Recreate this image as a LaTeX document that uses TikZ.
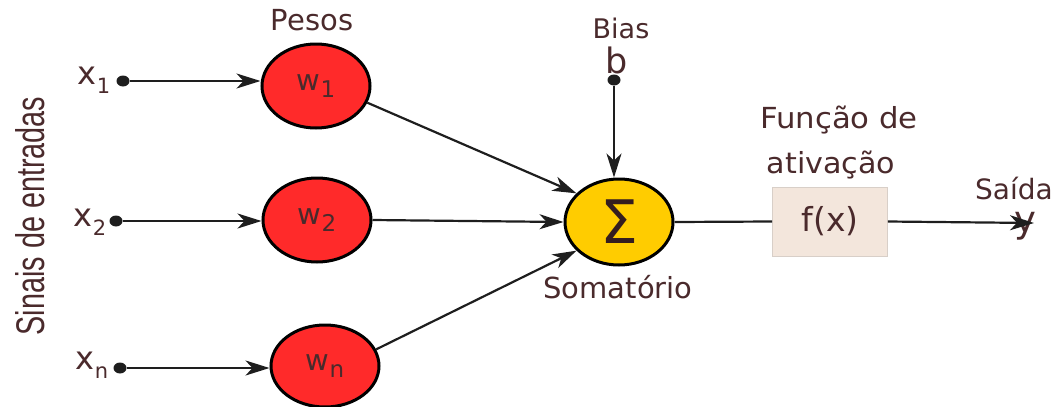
\documentclass[tikz,border=0pt]{standalone}
\usepackage{fontspec}
\setmainfont{DejaVu Sans}
\newfontfamily\narrowfont{Liberation Sans}
\usetikzlibrary{arrows.meta,shapes.geometric}
\definecolor{txt}{HTML}{4A2A2C}
\definecolor{ln}{HTML}{1E1E1E}
\definecolor{redw}{HTML}{FF2A2A}
\definecolor{sumy}{HTML}{FFCC00}
\definecolor{boxf}{HTML}{F3E6DC}
\definecolor{boxd}{HTML}{D8CFC8}
\newcommand{\fs}[1]{\fontsize{#1}{#1}\selectfont}
\begin{document}
\begin{tikzpicture}[x=1pt,y=-1pt,
  lbl/.style={text=txt,inner sep=0pt},
  wnode/.style={ellipse,draw=black,line width=3pt,fill=redw,minimum width=108pt,minimum height=84pt,inner sep=0pt,text=txt},
  dotc/.style={ellipse,fill=ln,minimum width=13pt,minimum height=11pt,inner sep=0pt},
  conn/.style={draw=ln,line width=2.2pt,-{Stealth[length=24pt,width=15pt,inset=7pt]}}]
\useasboundingbox (0,0) rectangle (1058,407);
% input labels
\node[lbl] (lx1) at (94,80) {\fs{32}x\raisebox{-9pt}{\fs{21}1}};
\node[lbl] (lx2) at (90,222) {\fs{32}x\raisebox{-9pt}{\fs{21}2}};
\node[lbl] (lxn) at (92,365) {\fs{32}x\raisebox{-9pt}{\fs{21}n}};
\node[dotc] (d1) at (123,81) {};
\node[dotc] (d2) at (116,221) {};
\node[dotc] (dn) at (120,368) {};
% weights
\node[wnode] (w1) at (316,86) {\fs{29}w\raisebox{-7pt}{\fs{23}1}};
\node[wnode] (w2) at (317,220) {\fs{29}w\raisebox{-7pt}{\fs{23}2}};
\node[wnode,minimum height=82pt] (wn) at (325,366) {\fs{29}w\raisebox{-7pt}{\fs{23}n}};
\node[lbl] (pesos) at (312,20) {\fs{29}Pesos};
% sum
\node[ellipse,draw=black,line width=3pt,fill=sumy,minimum width=108pt,minimum height=86pt,inner sep=0pt,text=txt!70!black] (sum) at (619,222) {\fs{60}Σ};
\node[lbl] (som) at (618,287) {\fs{29}Somatório};
% bias
\node[lbl] (bias) at (621,28) {\fs{27}Bias};
\node[lbl] (b) at (617,60) {\fs{35}b};
\node[dotc] (db) at (614,80) {};
% activation
\node[draw=boxd,line width=0.8pt,fill=boxf,minimum width=115pt,minimum height=69pt,inner sep=0pt,text=txt] (fx) at (830,221.5) {\fs{33}f(x)};
\node[lbl] (fun1) at (839,120) {\scalebox{1.06}[1]{\fs{29}Função de}};
\node[lbl] (fun2) at (831,165) {\scalebox{1.04}[1]{\fs{29}ativação}};
\node[lbl] (saida) at (1014,188) {\fs{28}Saída};
\node[lbl] (y) at (1025,226) {\fs{37}y};
\coordinate (yend) at (1034,223);
% side label
\node[lbl,rotate=90] (sinais) at (30,216) {\scalebox{0.72}[1]{\narrowfont\fs{40}Sinais de entradas}};
% connectors
\draw[conn] (d1) -- (d1 -| w1.west);
\draw[conn] (d2) -- (d2 -| w2.west);
\draw[conn] (dn) -- (dn -| wn.west);
\draw[conn] (db) -- (db |- sum.north);
\draw[conn] (w1.-18) -- (sum.146);
\draw[conn] (w2.east) -- (sum.west);
\draw[conn] (wn.18) -- (sum.-146);
\draw[draw=ln,line width=2.2pt] (sum.east) -- (fx.west);
\draw[conn] (fx.east) -- (yend);
\end{tikzpicture}
\end{document}
